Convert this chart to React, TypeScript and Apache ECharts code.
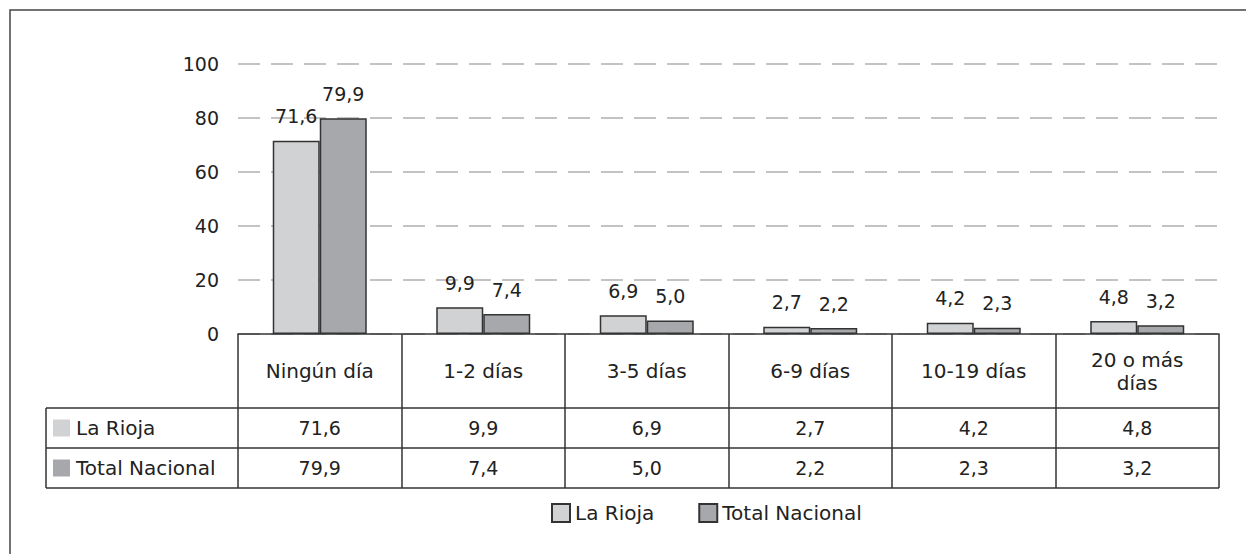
import React, { useEffect, useRef } from "react";
import * as echarts from "echarts";

const categories = ["Ningún día", "1-2 días", "3-5 días", "6-9 días", "10-19 días", "20 o más\ndías"];
const seriesNames = ["La Rioja", "Total Nacional"];
const laRioja = [71.6, 9.9, 6.9, 2.7, 4.2, 4.8];
const totalNacional = [79.9, 7.4, 5.0, 2.2, 2.3, 3.2];
const yTicks = [0, 20, 40, 60, 80, 100];

const LIGHT = "#d1d2d4";
const DARK = "#a7a8ab";
const INK = "#222";
const FONT = "DejaVu Sans";
const WORD_SIZE = 20;
const NUM_SIZE = 19;
const fmt = (v: number) => v.toFixed(1).replace(".", ",");

const GRID_LEFT = 238;
const GRID_RIGHT_X = 1219;
const AXIS_Y = 334;
const ROW1_TOP = 408;
const ROW2_TOP = 448;
const TABLE_BOTTOM = 488;
const TABLE_LEFT = 46;

export default function App() {
  const ref = useRef<HTMLDivElement>(null);
  useEffect(() => {
    document.body.style.margin = "0";
    const chart = echarts.init(ref.current!, null, { renderer: "svg" });
    const barLabel = {
      show: true,
      position: "top" as const,
      distance: 15,
      color: INK,
      fontFamily: FONT,
      fontSize: NUM_SIZE,
      formatter: (p: any) => fmt(p.value),
    };
    chart.setOption({
      animation: false,
      backgroundColor: "#fff",
      textStyle: { fontFamily: FONT },
      grid: { left: GRID_LEFT, right: 1246 - GRID_RIGHT_X, top: 64, bottom: 554 - AXIS_Y },
      legend: {
        left: 546,
        top: 498,
        itemWidth: 18,
        itemHeight: 18,
        itemGap: 44,
        icon: "rect",
        textStyle: { color: INK, fontSize: WORD_SIZE, fontFamily: FONT },
        data: seriesNames,
      },
      xAxis: {
        type: "category",
        data: categories,
        axisLine: { lineStyle: { color: "#333", width: 1.5 } },
        axisTick: { show: true, interval: 0, length: TABLE_BOTTOM - AXIS_Y, lineStyle: { color: "#333", width: 1.5 } },
        axisLabel: {
          interval: 0,
          margin: 37,
          verticalAlign: "middle",
          color: INK,
          fontSize: WORD_SIZE,
          lineHeight: 23,
          fontFamily: FONT,
        },
      },
      yAxis: {
        type: "value",
        min: 0,
        max: 100,
        interval: 20,
        axisLine: { show: false },
        axisTick: { show: false },
        axisLabel: {
          margin: 19,
          color: INK,
          fontSize: NUM_SIZE,
          fontFamily: FONT,
          formatter: (v: number) => (yTicks.includes(v) ? String(v) : ""),
        },
        splitLine: { lineStyle: { color: "#b0b0b0", width: 1.5, type: [22, 11] } },
      },
      series: [
        {
          name: seriesNames[0],
          type: "bar",
          data: laRioja,
          barWidth: 47,
          barGap: "0%",
          itemStyle: { color: LIGHT, borderColor: "#333", borderWidth: 1.5 },
          label: barLabel,
        },
        {
          name: seriesNames[1],
          type: "bar",
          data: totalNacional,
          barWidth: 47,
          barGap: "0%",
          itemStyle: { color: DARK, borderColor: "#333", borderWidth: 1.5 },
          label: barLabel,
        },
      ],
    });

    const graphics: any[] = [];
    graphics.push({
      type: "rect",
      shape: { x: 10, y: 10, width: 1250, height: 560 },
      style: { fill: "none", stroke: "#444", lineWidth: 1.5 },
      silent: true,
    });
    const lineStyle = { stroke: "#333", lineWidth: 1.5 };
    [ROW1_TOP, ROW2_TOP, TABLE_BOTTOM].forEach((y) => {
      graphics.push({ type: "line", shape: { x1: TABLE_LEFT, y1: y, x2: GRID_RIGHT_X, y2: y }, style: lineStyle });
    });
    graphics.push({ type: "line", shape: { x1: TABLE_LEFT, y1: ROW1_TOP, x2: TABLE_LEFT, y2: TABLE_BOTTOM }, style: lineStyle });
    const rows = [
      { name: seriesNames[0], color: LIGHT, values: laRioja, top: ROW1_TOP },
      { name: seriesNames[1], color: DARK, values: totalNacional, top: ROW2_TOP },
    ];
    rows.forEach((r) => {
      const cy = r.top + (ROW2_TOP - ROW1_TOP) / 2;
      graphics.push({ type: "rect", shape: { x: 53, y: cy - 8.5, width: 17, height: 17 }, style: { fill: r.color } });
      graphics.push({
        type: "text",
        x: 76,
        y: cy,
        style: { text: r.name, fill: INK, fontSize: WORD_SIZE, fontFamily: FONT, verticalAlign: "middle", align: "left" },
      });
      r.values.forEach((v, i) => {
        const px = chart.convertToPixel({ xAxisIndex: 0 }, i) as number;
        graphics.push({
          type: "text",
          x: px,
          y: cy,
          style: { text: fmt(v), fill: INK, fontSize: NUM_SIZE, fontFamily: FONT, verticalAlign: "middle", align: "center" },
        });
      });
    });
    chart.setOption({ graphic: graphics });
    return () => chart.dispose();
  }, []);
  return <div ref={ref} style={{ width: 1246, height: 554 }} />;
}
